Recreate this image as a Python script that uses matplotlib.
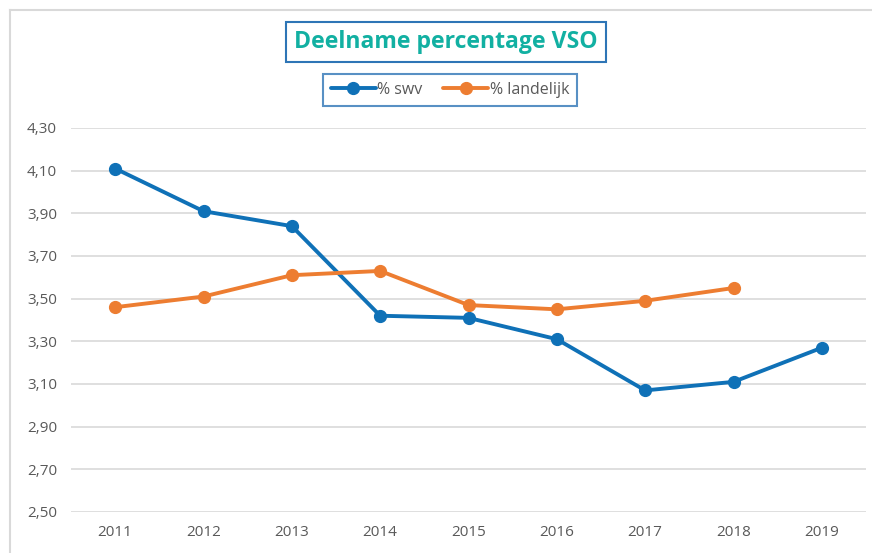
import numpy as np
from matplotlib import pyplot as plt
from matplotlib.lines import Line2D

plt.rc('font', family=['Open Sans', 'DejaVu Sans'])

years = ['2011', '2012', '2013', '2014', '2015', '2016', '2017', '2018', '2019']
swv = [4.11, 3.91, 3.84, 3.42, 3.41, 3.31, 3.07, 3.11, 3.27]
landelijk = [3.46, 3.51, 3.61, 3.63, 3.47, 3.45, 3.49, 3.55]
yticks = [2.50, 2.70, 2.90, 3.10, 3.30, 3.50, 3.70, 3.90, 4.10, 4.30]

colour_blue = '#0F71B7'
colour_orange = '#ED7D31'
grey_txt = '#595959'

fig = plt.figure(figsize=(8.72, 5.53), dpi=100)
ax = fig.add_axes([71 / 872, 41 / 553, 795 / 872, 384 / 553])

x = np.arange(len(years))
ax.plot(x, swv, color=colour_blue, lw=2.8, marker='o', ms=8.5, label='% swv',
        solid_capstyle='round', zorder=3)
ax.plot(x[:len(landelijk)], landelijk, color=colour_orange, lw=2.8, marker='o', ms=8.5,
        label='% landelijk', solid_capstyle='round', zorder=3)

ax.set_xlim(-0.5, 8.5)
ax.set_ylim(2.50, 4.30)
ax.set_xticks(x)
ax.set_xticklabels(years)
ax.set_yticks(yticks)
ax.set_yticklabels([('%.2f' % v).replace('.', ',') for v in yticks])
ax.grid(axis='y', color='#D9D9D9', lw=1.2)
ax.set_axisbelow(True)
for s in ax.spines.values():
    s.set_visible(False)
ax.tick_params(length=0, labelsize=11, labelcolor=grey_txt)
ax.tick_params(axis='y', pad=10)
ax.tick_params(axis='x', pad=9)

# chart area border (only left and top visible in the crop)
fig.add_artist(Line2D([10 / 872, 10 / 872], [0, 1 - 10 / 553], color='#D9D9D9', lw=1.5,
                      transform=fig.transFigure))
fig.add_artist(Line2D([10 / 872, 1], [1 - 10 / 553, 1 - 10 / 553], color='#D9D9D9', lw=1.5,
                      transform=fig.transFigure))

fig.text(446 / 872, 1 - 42 / 553, 'Deelname percentage VSO', ha='center', va='center',
         fontsize=16.6, fontweight='bold', color='#12B0A2',
         bbox=dict(boxstyle='square,pad=0.35', fc='white', ec='#2E75B6', lw=1.5))

leg = ax.legend(loc='center', bbox_to_anchor=(450 / 872, 1 - 90 / 553),
                bbox_transform=fig.transFigure, ncol=2, fancybox=False,
                fontsize=11.5, handlelength=2.8, columnspacing=1.3, handletextpad=0.1,
                borderpad=0.5, borderaxespad=0)
leg.get_frame().set_edgecolor('#2E75B6')
leg.get_frame().set_linewidth(1.5)
for t in leg.get_texts():
    t.set_color(grey_txt)

plt.savefig('out.png', dpi=100)
